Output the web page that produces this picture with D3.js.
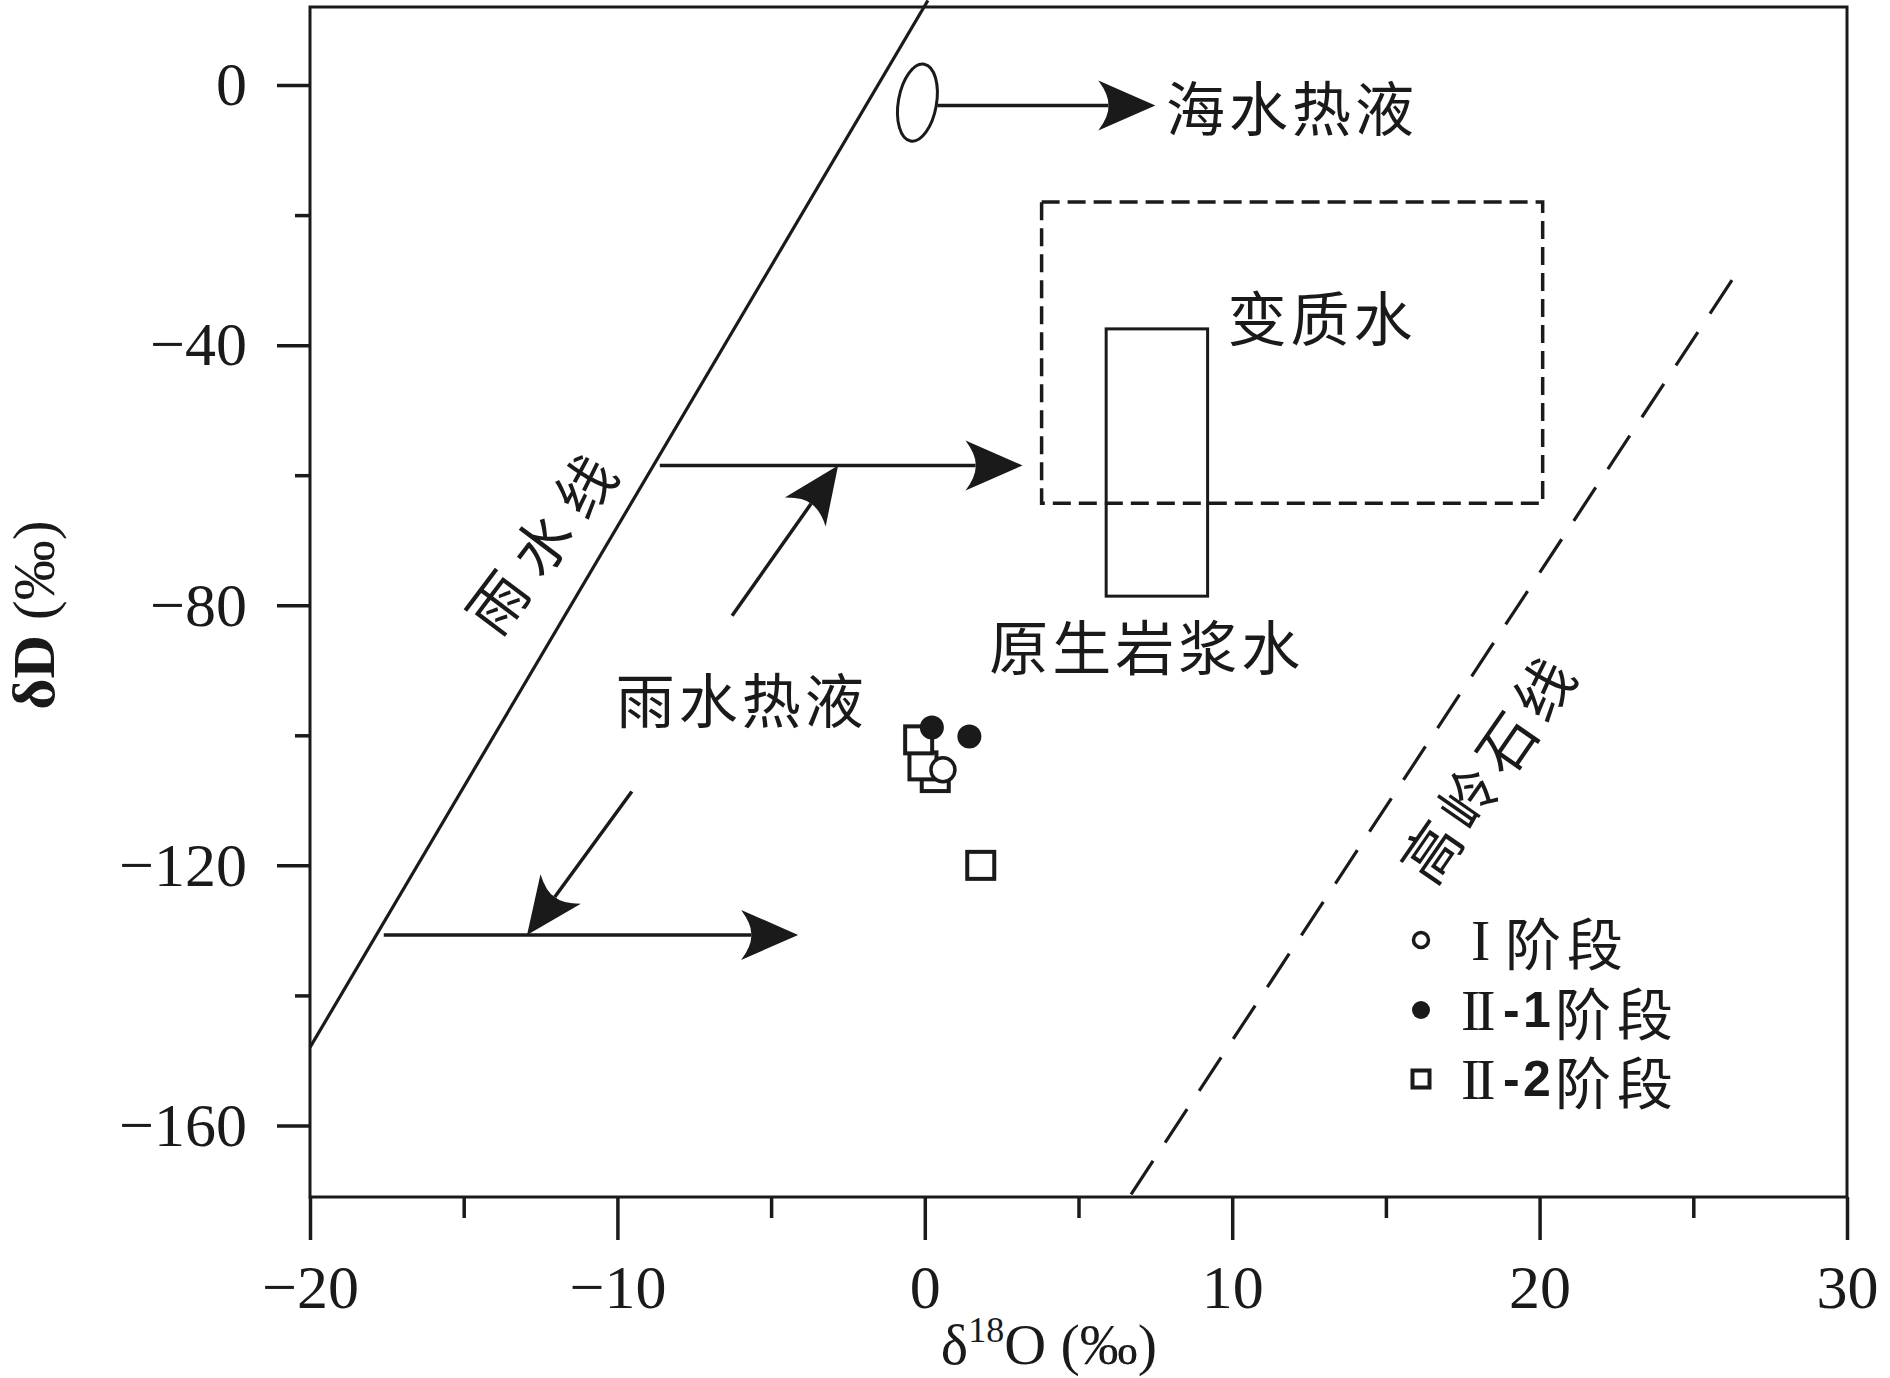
<!DOCTYPE html>
<html>
<head>
<meta charset="utf-8">
<script src="https://cdn.jsdelivr.net/npm/d3@7"></script>
<style>
    body { margin: 0; background: #fff; }
    svg { display: block; }
</style>
</head>
<body>
<script>
var width = 1890,
    height = 1378;

var frame = {left: 310, right: 1847, top: 7, bottom: 1197};

// axis ticks
var xMajorTicks = [-20, -10, 0, 10, 20, 30];
var xMinorTicks = [-15, -5, 5, 15, 25];
var yMajorTicks = [0, -40, -80, -120, -160];
var yMinorTicks = [-20, -60, -100, -140];

// samples [d18O, dD]
var stage1 = [[0.59, -105.3]];
var stage21 = [[0.23, -98.8], [1.45, -100.2]];
var stage22 = [[0.34, -106.5], [-0.06, -104.7], [-0.2, -100.7], [1.82, -120.0]];

// reference lines and fields
var meteoricLine = [[-20, -148], [0.1, 13]];
var kaoliniteLine = [[6.71, -170.6], [26.51, -28.2]];
var metamorphicX = [3.8, 20.1],
    metamorphicY = [-64.3, -18];
var magmaticX = [5.9, 9.2],
    magmaticY = [-78.6, -37.5];
var seawaterCenter = [-0.24, -2.7],
    seawaterRadius = [0.62, 6];

var arrowLines = [
    [[0.41, -3.15], [7.5, -3.15]],
    [[-8.62, -58.5], [3.18, -58.5]],
    [[-6.27, -81.6], [-2.82, -58.5]],
    [[-9.53, -108.65], [-12.94, -130.7]],
    [[-17.6, -130.7], [-4.12, -130.7]]
];

var fieldLabels = ["海水热液", "变质水", "原生岩浆水", "雨水热液"];
var fieldLabelAt = [[7.85, -3.2], [9.85, -35.4], [2.1, -86.0], [-10.05, -94.2]];
var lineLabels = ["雨水线", "高岭石线"];
var lineLabelAt = [[-12.4, -69.4], [18.3, -104.6]];
var lineLabelAngle = [-53, -55.3];

var legendMarks = ["I", "II", "II"];
var legendSubs = ["", "-1", "-2"];
var legendWord = "阶段";

var cjk = "'Noto Sans CJK SC', sans-serif",
    serif = "'Liberation Serif', 'Times New Roman', serif",
    ink = "#1a1a1a";

var x = d3.scaleLinear().domain([-20, 30]).range([frame.left, frame.right]);
var y = d3.scaleLinear().domain([-171, 12]).range([frame.bottom, frame.top]);

var svg = d3.select("body").append("svg")
    .attr("width", width)
    .attr("height", height)
    .style("background", "#fff");

function styleAxis(g) {
    g.select(".domain").remove();
    g.selectAll(".tick line").attr("stroke", ink).attr("stroke-width", 3.5);
    g.selectAll(".tick text")
        .attr("fill", ink)
        .style("font-family", serif)
        .style("font-size", "62px");
}

// x axis
svg.append("g")
    .attr("transform", "translate(0," + frame.bottom + ")")
    .call(d3.axisBottom(x).tickValues(xMinorTicks).tickSize(21).tickFormat(""))
    .call(styleAxis);
svg.append("g")
    .attr("transform", "translate(0," + frame.bottom + ")")
    .call(d3.axisBottom(x).tickValues(xMajorTicks).tickSize(43).tickPadding(24).tickFormat(d3.format("d")))
    .call(styleAxis);

// y axis
svg.append("g")
    .attr("transform", "translate(" + frame.left + ",0)")
    .call(d3.axisLeft(y).tickValues(yMinorTicks).tickSize(15).tickFormat(""))
    .call(styleAxis);
svg.append("g")
    .attr("transform", "translate(" + frame.left + ",0)")
    .call(d3.axisLeft(y).tickValues(yMajorTicks).tickSize(33).tickPadding(30).tickFormat(d3.format("d")))
    .call(styleAxis);

svg.append("rect")
    .attr("x", frame.left)
    .attr("y", frame.top)
    .attr("width", frame.right - frame.left)
    .attr("height", frame.bottom - frame.top)
    .attr("fill", "none")
    .attr("stroke", ink)
    .attr("stroke-width", 3);

// axis titles
var yTitle = svg.append("text")
    .attr("transform", "translate(54,615) rotate(-90)")
    .attr("text-anchor", "middle")
    .attr("fill", ink)
    .style("font-family", serif)
    .style("font-size", "60px");
yTitle.append("tspan").style("font-weight", "bold").text("δD");
yTitle.append("tspan").text(" (‰)");

var xTitle = svg.append("text")
    .attr("x", 1049)
    .attr("y", 1364)
    .attr("text-anchor", "middle")
    .attr("fill", ink)
    .style("font-family", serif)
    .style("font-size", "58px");
xTitle.append("tspan").text("δ");
xTitle.append("tspan").attr("dy", -22).style("font-size", "36px").text("18");
xTitle.append("tspan").attr("dy", 22).text("O");
xTitle.append("tspan").text(" (‰)");

var line = d3.line()
    .x(function(d) { return x(d[0]); })
    .y(function(d) { return y(d[1]); });

svg.append("path")
    .attr("d", line(meteoricLine))
    .attr("fill", "none")
    .attr("stroke", ink)
    .attr("stroke-width", 3.2);

svg.append("path")
    .attr("d", line(kaoliniteLine))
    .attr("fill", "none")
    .attr("stroke", ink)
    .attr("stroke-width", 3.2)
    .attr("stroke-dasharray", "40,22");

// fields
svg.append("rect")
    .attr("x", x(metamorphicX[0]))
    .attr("y", y(metamorphicY[1]))
    .attr("width", x(metamorphicX[1]) - x(metamorphicX[0]))
    .attr("height", y(metamorphicY[0]) - y(metamorphicY[1]))
    .attr("fill", "none")
    .attr("stroke", ink)
    .attr("stroke-width", 3.5)
    .attr("stroke-dasharray", "18,8");

svg.append("rect")
    .attr("x", x(magmaticX[0]))
    .attr("y", y(magmaticY[1]))
    .attr("width", x(magmaticX[1]) - x(magmaticX[0]))
    .attr("height", y(magmaticY[0]) - y(magmaticY[1]))
    .attr("fill", "none")
    .attr("stroke", ink)
    .attr("stroke-width", 3);

svg.append("ellipse")
    .attr("cx", x(seawaterCenter[0]))
    .attr("cy", y(seawaterCenter[1]))
    .attr("rx", x(seawaterRadius[0]) - x(0))
    .attr("ry", y(0) - y(seawaterRadius[1]))
    .attr("transform", "rotate(10," + x(seawaterCenter[0]) + "," + y(seawaterCenter[1]) + ")")
    .attr("fill", "none")
    .attr("stroke", ink)
    .attr("stroke-width", 3);

// arrows: shaft up to the notch, then a barbed head
var headLength = 57,
    headNotch = 10;

var arrows = svg.selectAll(".arrow")
    .data(arrowLines)
    .enter().append("g")
    .attr("class", "arrow");

arrows.append("line")
    .attr("x1", function(d) { return x(d[0][0]); })
    .attr("y1", function(d) { return y(d[0][1]); })
    .attr("x2", function(d) {
        var dx = x(d[1][0]) - x(d[0][0]), dy = y(d[1][1]) - y(d[0][1]);
        var len = Math.sqrt(dx * dx + dy * dy);
        return x(d[1][0]) - dx / len * (headLength - headNotch);
    })
    .attr("y2", function(d) {
        var dx = x(d[1][0]) - x(d[0][0]), dy = y(d[1][1]) - y(d[0][1]);
        var len = Math.sqrt(dx * dx + dy * dy);
        return y(d[1][1]) - dy / len * (headLength - headNotch);
    })
    .attr("stroke", ink)
    .attr("stroke-width", 3.5);

arrows.append("path")
    .attr("d", "M0,0 L-57,-25 Q-46,-10 -47,0 Q-46,10 -57,25 Z")
    .attr("transform", function(d) {
        var angle = Math.atan2(y(d[1][1]) - y(d[0][1]), x(d[1][0]) - x(d[0][0])) * 180 / Math.PI;
        return "translate(" + x(d[1][0]) + "," + y(d[1][1]) + ") rotate(" + angle + ")";
    })
    .attr("fill", ink);

// labels
svg.selectAll(".field-label")
    .data(fieldLabels)
    .enter().append("text")
    .attr("class", "field-label")
    .attr("x", function(d, i) { return x(fieldLabelAt[i][0]); })
    .attr("y", function(d, i) { return y(fieldLabelAt[i][1]); })
    .attr("dominant-baseline", "central")
    .attr("fill", ink)
    .style("font-family", cjk)
    .style("font-size", "59px")
    .style("letter-spacing", "4px")
    .text(function(d) { return d; });

svg.selectAll(".line-label")
    .data(lineLabels)
    .enter().append("text")
    .attr("class", "line-label")
    .attr("transform", function(d, i) {
        return "translate(" + x(lineLabelAt[i][0]) + "," + y(lineLabelAt[i][1]) + ") rotate(" + lineLabelAngle[i] + ")";
    })
    .attr("text-anchor", "middle")
    .attr("dominant-baseline", "central")
    .attr("fill", ink)
    .style("font-family", cjk)
    .style("font-size", "58px")
    .style("letter-spacing", function(d, i) { return i === 0 ? "15px" : "8px"; })
    .text(function(d) { return d; });

// samples
svg.selectAll(".s22")
    .data(stage22)
    .enter().append("rect")
    .attr("class", "s22")
    .attr("x", function(d) { return x(d[0]) - 13.5; })
    .attr("y", function(d) { return y(d[1]) - 13.5; })
    .attr("width", 27)
    .attr("height", 27)
    .attr("fill", "#fff")
    .attr("stroke", ink)
    .attr("stroke-width", 4);

svg.selectAll(".s21")
    .data(stage21)
    .enter().append("circle")
    .attr("class", "s21")
    .attr("cx", function(d) { return x(d[0]); })
    .attr("cy", function(d) { return y(d[1]); })
    .attr("r", 12)
    .attr("fill", ink);

svg.selectAll(".s1")
    .data(stage1)
    .enter().append("circle")
    .attr("class", "s1")
    .attr("cx", function(d) { return x(d[0]); })
    .attr("cy", function(d) { return y(d[1]); })
    .attr("r", 12)
    .attr("fill", "#fff")
    .attr("stroke", ink)
    .attr("stroke-width", 3.5);

// legend
var legend = svg.append("g").attr("transform", "translate(1421,0)");
var rowY = [940, 1010, 1079];

legend.append("circle").attr("cx", 0).attr("cy", rowY[0]).attr("r", 7.5)
    .attr("fill", "#fff").attr("stroke", ink).attr("stroke-width", 3.5);
legend.append("circle").attr("cx", 0).attr("cy", rowY[1]).attr("r", 9)
    .attr("fill", ink);
legend.append("rect").attr("x", -8.5).attr("y", rowY[2] - 8.5).attr("width", 17).attr("height", 17)
    .attr("fill", "#fff").attr("stroke", ink).attr("stroke-width", 4);

legendMarks.forEach(function(mark, i) {
    var row = legend.append("g").attr("transform", "translate(0," + rowY[i] + ")");
    row.append("text")
        .attr("x", i === 0 ? 50 : 40)
        .attr("dominant-baseline", "central")
        .attr("fill", ink)
        .style("font-family", serif)
        .style("font-size", "58px")
        .style("letter-spacing", "-4px")
        .text(mark);
    if (legendSubs[i]) {
        row.append("text")
            .attr("x", 82)
            .attr("dominant-baseline", "central")
            .attr("fill", ink)
            .style("font-family", "'Liberation Sans', Arial, sans-serif")
            .style("font-weight", "bold")
            .style("font-size", "50px")
            .text(legendSubs[i].charAt(0));
        row.append("text")
            .attr("x", 102)
            .attr("dominant-baseline", "central")
            .attr("fill", ink)
            .style("font-family", "'Liberation Sans', Arial, sans-serif")
            .style("font-weight", "bold")
            .style("font-size", "50px")
            .text(legendSubs[i].charAt(1));
    }
    row.append("text")
        .attr("x", i === 0 ? 84 : 134)
        .attr("dominant-baseline", "central")
        .attr("fill", ink)
        .style("font-family", cjk)
        .style("font-size", "56px")
        .style("letter-spacing", "6px")
        .text(legendWord);
});
</script>
</body>
</html>
